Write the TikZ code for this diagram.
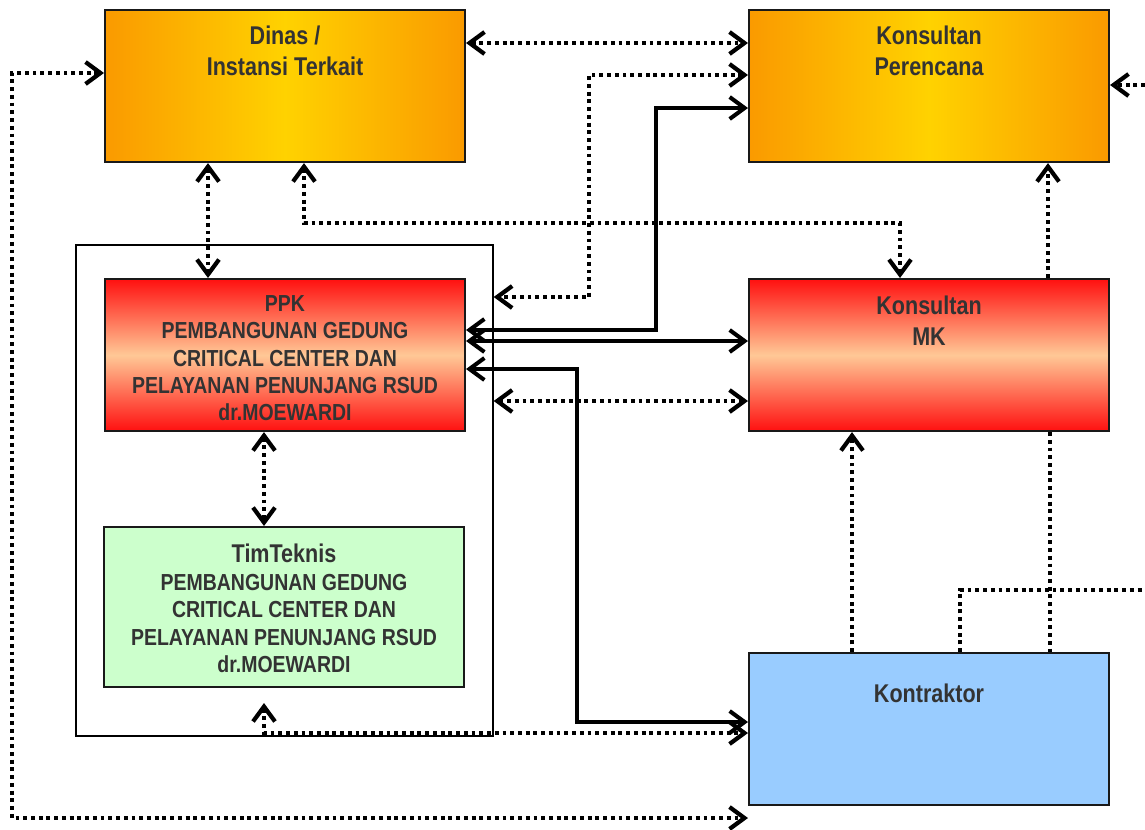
\documentclass[tikz,border=0pt]{standalone}
\usepackage{fontspec}
\newfontfamily\boxfont[FakeStretch=0.84]{Liberation Sans}
\usetikzlibrary{arrows.meta,positioning}
\definecolor{oranye}{HTML}{FA9A00}
\definecolor{kuning}{HTML}{FFD200}
\definecolor{merah}{HTML}{FF1010}
\definecolor{peach}{HTML}{FFC896}
\definecolor{hijau}{HTML}{CCFFCC}
\definecolor{biru}{HTML}{99CCFF}
\definecolor{teks}{HTML}{333333}
\tikzset{>={Straight Barb[length=8.5pt,width=12.5pt]}}
\tikzset{
  box/.style={draw=black!90, line width=1.2pt, anchor=north west, minimum width=7.2cm, minimum height=3.04cm, inner sep=0pt},
  oranyebox/.style={box, left color=oranye, right color=oranye, middle color=kuning},
  merahbox/.style={box, top color=merah, bottom color=merah, middle color=peach},
  judul/.style={inner sep=0pt, align=center, text=teks, font=\boxfont\bfseries\fontsize{14.6}{17.3}\selectfont},
  isi/.style={inner sep=0pt, align=center, text=teks, font=\boxfont\bfseries\fontsize{13.2}{15.6}\selectfont},
  garis/.style={line width=2.3pt},
  titik/.style={line width=2.4pt, dash pattern=on 2.2pt off 2.2pt},
}

\begin{document}
\begin{tikzpicture}[x=0.02cm, y=-0.02cm]
        \useasboundingbox (0,0) rectangle (1145,829);
        \node (kelompok) at (75,244) [draw, line width=1pt, anchor=north west, minimum width=8.34cm, minimum height=9.82cm, inner sep=0pt] {};
        \node (dinas) at (104,9) [oranyebox] {};
        \node (perencana) at (748,9) [oranyebox] {};
        \node (ppk) at (104,278) [merahbox] {};
        \node (mk) at (748,278) [merahbox] {};
        \node (timteknis) at (103,526) [box, fill=hijau, minimum height=3.2cm] {};
        \node (kontraktor) at (748,652) [box, fill=biru] {};
        \node[judul, below=0.34cm of dinas.north] (dinastxt) {Dinas /\\Instansi Terkait};
        \node[judul, below=0.34cm of perencana.north] (perencanatxt) {Konsultan\\Perencana};
        \node[judul, below=0.36cm of mk.north] (mktxt) {Konsultan\\MK};
        \node[judul, below=0.64cm of kontraktor.north] (kontraktortxt) {Kontraktor};
        \node[isi, below=0.34cm of ppk.north] (ppktxt) {PPK\\PEMBANGUNAN GEDUNG\\CRITICAL CENTER DAN\\PELAYANAN PENUNJANG RSUD\\dr.MOEWARDI};
        \node[isi, below=0.36cm of timteknis.north] (timteknistxt) {{\fontsize{14.6}{17.3}\selectfont TimTeknis}\\PEMBANGUNAN GEDUNG\\CRITICAL CENTER DAN\\PELAYANAN PENUNJANG RSUD\\dr.MOEWARDI};
        \coordinate (bawah) at (748,818);
        \coordinate (tt) at (264,703);
        \coordinate (kanan1) at (1145,590);
        \coordinate (kanan2) at (1145,85);
        \draw[titik, <->] (dinas.east |- 0,43) -- (perencana.west |- 0,43);
        \draw[titik, <->] (dinas.west |- 0,73) -| (12,818) -- (bawah);
        \draw[titik, <->] (dinas.south -| 208,0) -- (ppk.north -| 208,0);
        \draw[titik, <->] (dinas.south -| 304,0) |- (900,223) -- (mk.north -| 900,0);
        \draw[titik, <->] (perencana.west |- 0,75) -| (589,297) -- (kelompok.east |- 0,297);
        \draw[garis, <->] (perencana.west |- 0,108) -| (656,330) -- (ppk.east |- 0,330);
        \draw[garis, <->] (ppk.east |- 0,341) -- (mk.west |- 0,341);
        \draw[garis, <->] (ppk.east |- 0,369) -| (577,722) -- (kontraktor.west |- 0,722);
        \draw[titik, <->] (kelompok.east |- 0,401) -- (mk.west |- 0,401);
        \draw[titik, <->] (ppk.south -| 264,0) -- (timteknis.north -| 264,0);
        \draw[titik, <->] (tt) |- (kontraktor.west |- 0,733);
        \draw[titik, ->] (kontraktor.north -| 852,0) -- (mk.south -| 852,0);
        \draw[titik, ->] (mk.north -| 1048,0) -- (perencana.south -| 1048,0);
        \draw[titik] (mk.south -| 1050,0) -- (kontraktor.north -| 1050,0);
        \draw[titik] (kontraktor.north -| 960,0) |- (kanan1);
        \draw[titik, ->] (kanan2) -- (perencana.east |- 0,85);
      \end{tikzpicture}
\end{document}
